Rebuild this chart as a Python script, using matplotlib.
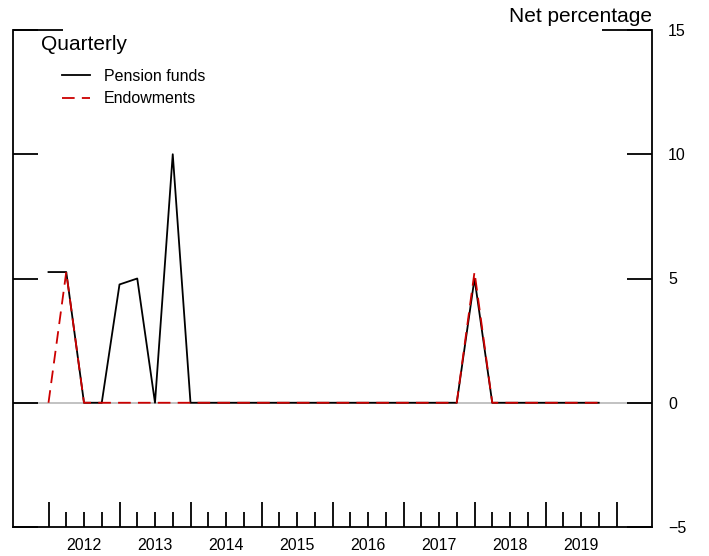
import matplotlib
matplotlib.use("Agg")
import matplotlib.pyplot as plt
import numpy as np

# quarterly survey data, net percentage
quarters = ["2012Q1", "2012Q2", "2012Q3", "2012Q4",
            "2013Q1", "2013Q2", "2013Q3", "2013Q4",
            "2014Q1", "2014Q2", "2014Q3", "2014Q4",
            "2015Q1", "2015Q2", "2015Q3", "2015Q4",
            "2016Q1", "2016Q2", "2016Q3", "2016Q4",
            "2017Q1", "2017Q2", "2017Q3", "2017Q4",
            "2018Q1", "2018Q2", "2018Q3", "2018Q4",
            "2019Q1", "2019Q2", "2019Q3", "2019Q4"]
pension_funds = [5.26, 5.26, 0, 0, 4.76, 5.0, 0, 10.0,
                 0, 0, 0, 0, 0, 0, 0, 0,
                 0, 0, 0, 0, 0, 0, 0, 0,
                 5.0, 0, 0, 0, 0, 0, 0, 0]
endowments = [0, 5.26, 0, 0, 0, 0, 0, 0,
              0, 0, 0, 0, 0, 0, 0, 0,
              0, 0, 0, 0, 0, 0, 0, 0,
              5.26, 0, 0, 0, 0, 0, 0, 0]
years = [2012, 2013, 2014, 2015, 2016, 2017, 2018, 2019]
yticks = [-5, 0, 5, 10, 15]


def to_num(q):
    return int(q[:4]) + (int(q[5]) - 1) / 4


def main():
    plt.rcParams['font.family'] = ['Liberation Sans', 'DejaVu Sans']
    x = np.array([to_num(q) for q in quarters])
    lw = 1.3

    fig = plt.figure(figsize=(7.09, 5.56), dpi=100)
    ax = fig.add_axes([13 / 709, 29 / 556, 639 / 709, 497 / 556])

    ax.axhline(0, color="#bdbdbd", lw=lw, zorder=1)
    ax.plot(x, pension_funds, color="black", lw=lw, label="Pension funds", zorder=3)
    ax.plot(x, endowments, color="#cc0000", lw=lw, ls=(0, (7, 4)),
            label="Endowments", zorder=4)

    ax.set_xlim(2011.5, 2020.5)
    ax.set_ylim(-5, 15)

    for s in ["left", "right", "bottom"]:
        ax.spines[s].set_linewidth(lw)
    ax.spines["top"].set_visible(False)

    # y ticks on both sides, labels on the right
    ax.set_yticks(yticks)
    ax.set_yticklabels(["\u22125" if v < 0 else str(v) for v in yticks])
    ax.tick_params(axis="y", direction="in", length=18, width=lw,
                   left=True, right=True, labelleft=False, labelright=True,
                   labelsize=11.5, pad=11.5)

    # year labels centred in each year, quarter ticks
    ax.xaxis.remove_overlapping_locs = False
    ax.set_xticks([y + 0.5 for y in years])
    ax.set_xticklabels([str(y) for y in years])
    ax.tick_params(axis="x", which="major", length=0, labelsize=11.5, pad=8)
    ax.set_xticks([y + q / 4 for y in years for q in (1, 2, 3)], minor=True)
    ax.tick_params(axis="x", which="minor", direction="in", length=11, width=lw)

    sec = ax.secondary_xaxis("bottom")
    sec.set_xticks(years + [2020])
    sec.tick_params(direction="in", length=18, width=lw, labelbottom=False)
    sec.spines["bottom"].set_visible(False)

    # short caps at the top corners
    ax.plot([0, 50 / 639], [1, 1], transform=ax.transAxes, color="black",
            lw=lw, clip_on=False, solid_capstyle="butt")
    ax.plot([1 - 50 / 639, 1], [1, 1], transform=ax.transAxes, color="black",
            lw=lw, clip_on=False, solid_capstyle="butt")

    fig.text(41 / 709, 1 - 50 / 556, "Quarterly", fontsize=15, va="baseline")
    fig.text(652 / 709, 1 - 22 / 556, "Net percentage", fontsize=15,
             va="baseline", ha="right")

    ax.legend(loc="upper left", bbox_to_anchor=(49 / 639, 1 - 39 / 497),
              frameon=False, fontsize=11.5, borderpad=0, borderaxespad=0,
              handlelength=1.75, handletextpad=0.85, labelspacing=0.45)

    fig.savefig("out.png", dpi=100)


if __name__ == '__main__':
    main()
